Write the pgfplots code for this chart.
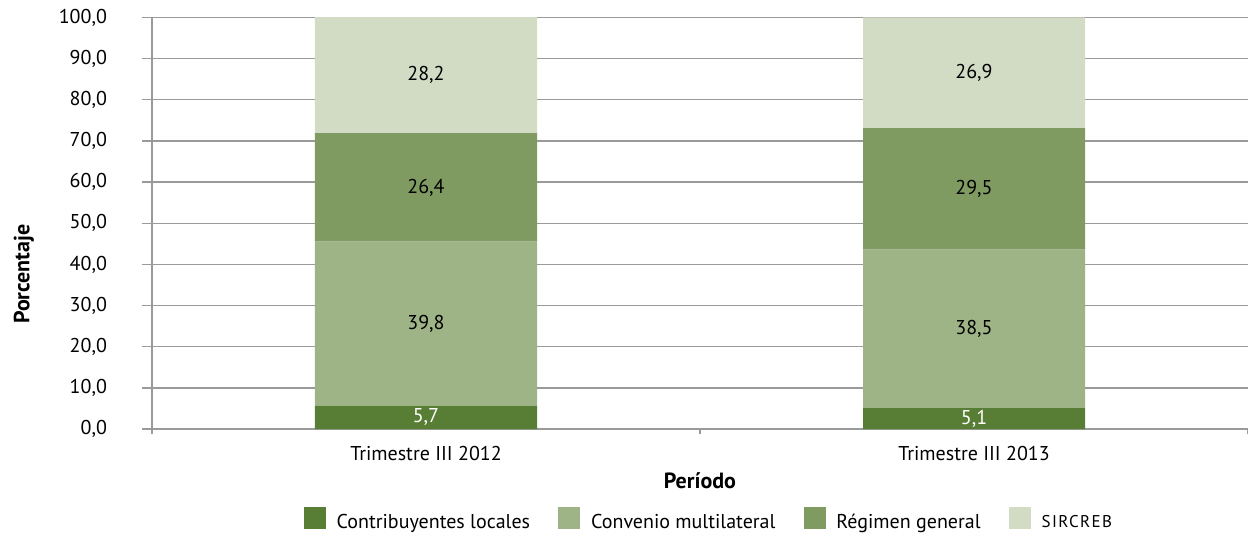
\documentclass[border=0pt]{standalone}
\usepackage{fontspec}
\setmainfont{PT Sans}
\usepackage{pgfplots}
\pgfplotsset{compat=1.18}
\definecolor{cA}{HTML}{587D35}
\definecolor{cB}{HTML}{9EB386}
\definecolor{cC}{HTML}{7F9B62}
\definecolor{cD}{HTML}{D2DCC5}
\definecolor{gridgray}{HTML}{9A9A9A}
\begin{document}
\begin{tikzpicture}
\useasboundingbox (-76pt,-51.5pt) rectangle (548pt,214.5pt);
\begin{axis}[
  scale only axis, width=548pt, height=206pt,
  ybar stacked, bar width=111pt,
  xmin=-0.5, xmax=1.5, ymin=0, ymax=100.1,
  xtick={0,1}, xticklabels={Trimestre III 2012, Trimestre III 2013},
  major x tick style={draw=none},
  minor xtick={-0.5,0.5,1.5},
  minor tick length=2.5pt,
  major tick length=5pt,
  tick align=outside,
  ytick={0,10,...,100},
  ymajorgrids, grid style={gridgray, line width=0.7pt},
  axis x line*=bottom, axis y line*=left,
  axis line style={gridgray, line width=0.7pt, -},
  tick style={gridgray, line width=0.7pt},
  font=\fontsize{10}{12}\selectfont,
  /pgf/number format/assume math mode=true,
  y tick label style={xshift=-14pt, /pgf/number format/.cd, fixed, fixed zerofill, precision=1, use comma},
  ylabel={\textbf{Porcentaje}},
  ylabel style={at={(axis description cs:-0.117,0.376)}, anchor=center, font=\fontsize{11}{13}\selectfont},
  xlabel={\textbf{Período}},
  xlabel style={at={(axis description cs:0.5,-0.126)}, anchor=center, font=\fontsize{11}{13}\selectfont},
  point meta=rawy,
  visualization depends on={rawy \as \myval},
  nodes near coords={\pgfmathprintnumber[fixed,fixed zerofill,precision=1,use comma,assume math mode=true]{\myval}},
  every node near coord/.append style={anchor=center, font=\fontsize{10}{12}\selectfont},
  legend columns=4,
  legend style={draw=none, at={(0.509,-0.223)}, anchor=center, font=\fontsize{10}{12}\selectfont,
    /tikz/every even column/.append style={column sep=12pt},
    /tikz/every odd column/.append style={column sep=3.5pt}},
  legend image code/.code={\fill[#1] (0pt,-3pt) rectangle (11pt,8pt);},
]
\addplot+[draw=none, fill=cA, every node near coord/.append style={text=white}] coordinates {(0,5.7) (1,5.1)};
\addplot+[draw=none, fill=cB, every node near coord/.append style={text=black}] coordinates {(0,39.8) (1,38.5)};
\addplot+[draw=none, fill=cC, every node near coord/.append style={text=black}] coordinates {(0,26.4) (1,29.5)};
\addplot+[draw=none, fill=cD, every node near coord/.append style={text=black}] coordinates {(0,28.2) (1,26.9)};
\legend{Contribuyentes locales, Convenio multilateral, Régimen general, {\fontsize{8.5}{10}\selectfont\addfontfeatures{LetterSpace=8}SIRCREB}}
\end{axis}
\end{tikzpicture}
\end{document}
